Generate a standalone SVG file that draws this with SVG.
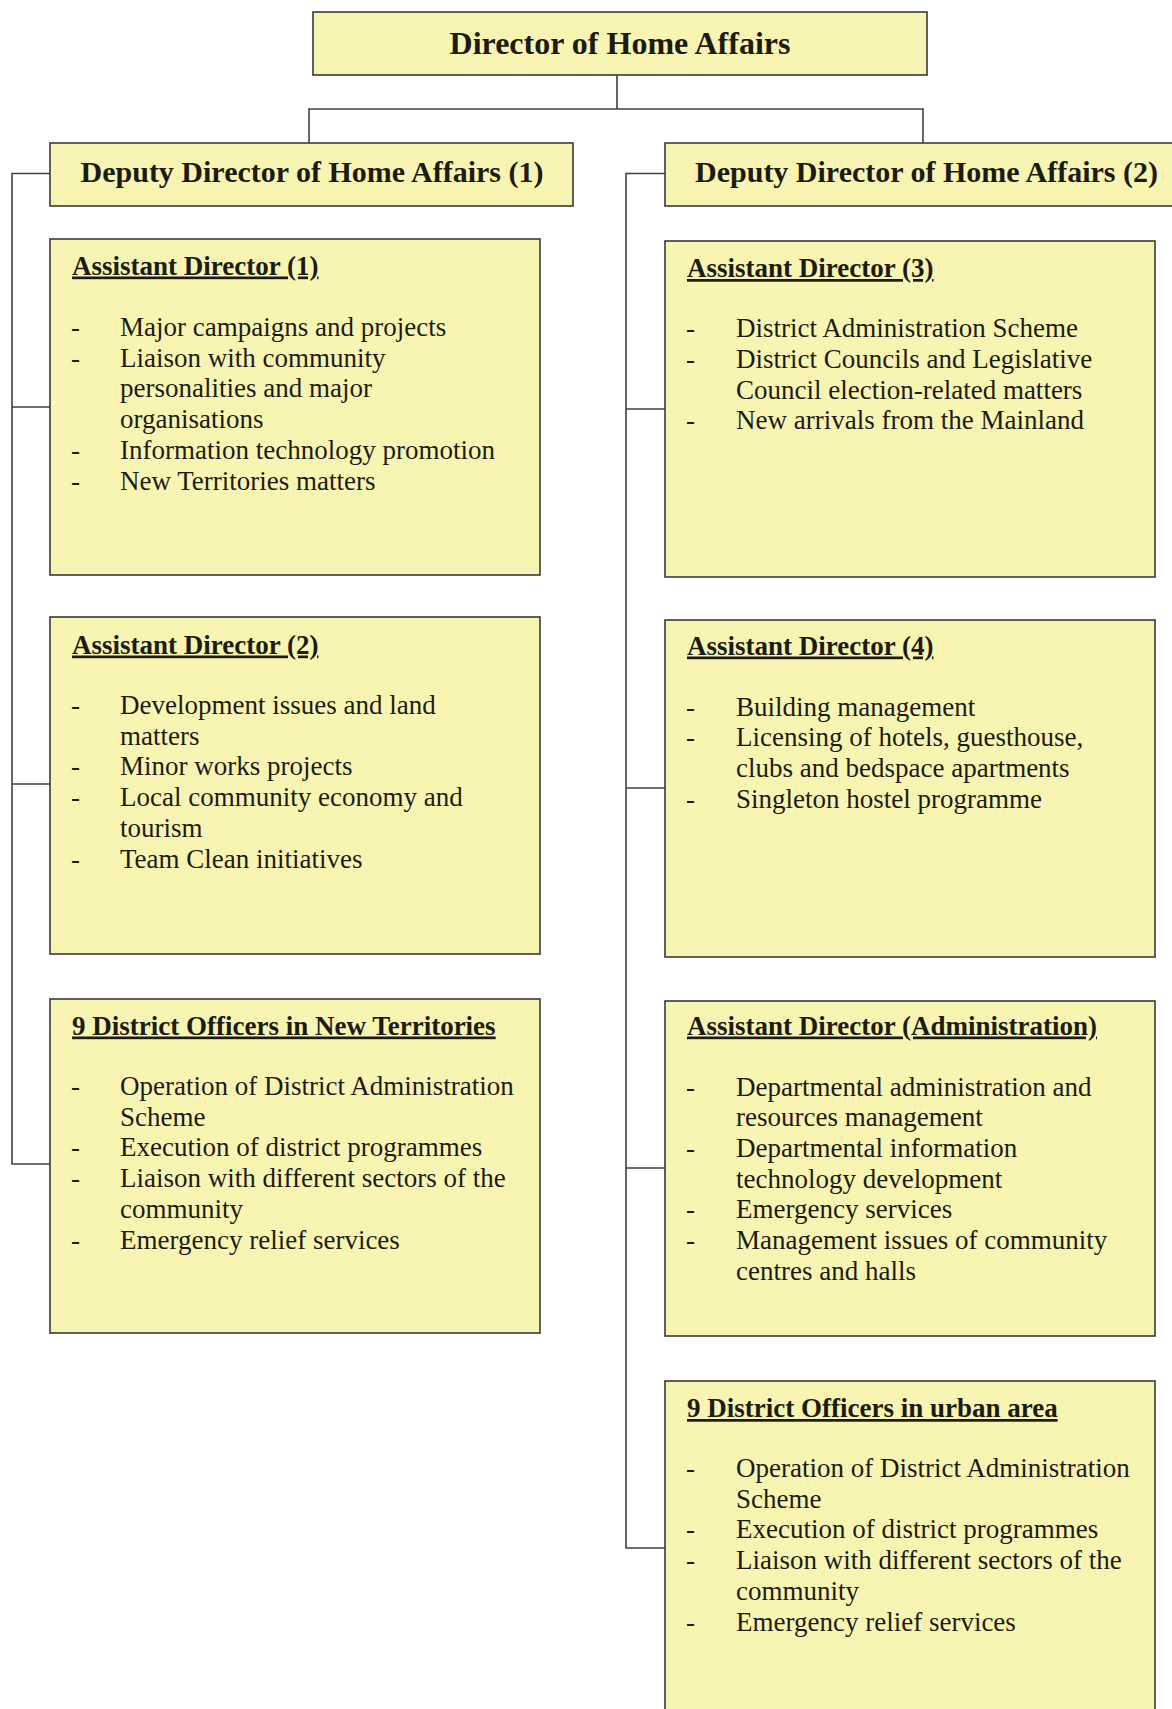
<svg xmlns="http://www.w3.org/2000/svg" width="1172" height="1709" viewBox="0 0 1172 1709">
<style>
.bg{fill:#ffffff}
.box{fill:#f8f5b3;stroke:#3a3a3a;stroke-width:1.6}
.conn{fill:none;stroke:#404040;stroke-width:1.6}
.t1{font-family:"Liberation Serif","Times New Roman",serif;font-weight:bold;font-size:32px;fill:#1c1c14;text-anchor:middle}
.t2{font-family:"Liberation Serif","Times New Roman",serif;font-weight:bold;font-size:30px;fill:#1c1c14;text-anchor:middle}
.hd{font-family:"Liberation Serif","Times New Roman",serif;font-weight:bold;font-size:27px;fill:#1c1c14;text-decoration:underline}
.bl{font-family:"Liberation Serif","Times New Roman",serif;font-size:27px;fill:#1c1c14}
</style>
<rect class="bg" x="0" y="0" width="1172" height="1709"/>

<g id="connectors">
  <path class="conn" d="M617,75 V109 M309,143 V109 H923 V143"/>
  <path class="conn" d="M50,173.5 H12 V1164 H50 M12,407 H50 M12,784 H50"/>
  <path class="conn" d="M665,173.5 H626 V1548 H665 M626,409 H665 M626,788 H665 M626,1168 H665"/>
</g>

<g id="director">
  <rect class="box" x="313" y="12" width="614" height="63"/>
  <text class="t1" x="620" y="53.5">Director of Home Affairs</text>
</g>

<g id="deputy1">
  <rect class="box" x="50" y="143" width="523" height="63"/>
  <text class="t2" x="312" y="182">Deputy Director of Home Affairs (1)</text>
</g>

<g id="deputy2">
  <rect class="box" x="665" y="143" width="540" height="63"/>
  <text class="t2" x="926.5" y="182">Deputy Director of Home Affairs (2)</text>
</g>

<g id="ad1">
  <rect class="box" x="50" y="239" width="490" height="336"/>
  <text class="hd" x="72" y="274.5">Assistant Director (1)</text>
  <text class="bl">
    <tspan x="71" y="336">-</tspan><tspan x="120" y="336">Major campaigns and projects</tspan>
    <tspan x="71" y="366.7">-</tspan><tspan x="120" y="366.7">Liaison with community</tspan>
    <tspan x="120" y="397.4">personalities and major</tspan>
    <tspan x="120" y="428.1">organisations</tspan>
    <tspan x="71" y="458.8">-</tspan><tspan x="120" y="458.8">Information technology promotion</tspan>
    <tspan x="71" y="489.5">-</tspan><tspan x="120" y="489.5">New Territories matters</tspan>
  </text>
</g>

<g id="ad2">
  <rect class="box" x="50" y="617" width="490" height="337"/>
  <text class="hd" x="72" y="653.5">Assistant Director (2)</text>
  <text class="bl">
    <tspan x="71" y="714">-</tspan><tspan x="120" y="714">Development issues and land</tspan>
    <tspan x="120" y="744.7">matters</tspan>
    <tspan x="71" y="775.4">-</tspan><tspan x="120" y="775.4">Minor works projects</tspan>
    <tspan x="71" y="806.1">-</tspan><tspan x="120" y="806.1">Local community economy and</tspan>
    <tspan x="120" y="836.8">tourism</tspan>
    <tspan x="71" y="867.5">-</tspan><tspan x="120" y="867.5">Team Clean initiatives</tspan>
  </text>
</g>

<g id="do-nt">
  <rect class="box" x="50" y="999" width="490" height="334"/>
  <text class="hd" x="72" y="1034.5">9 District Officers in New Territories</text>
  <text class="bl">
    <tspan x="71" y="1095">-</tspan><tspan x="120" y="1095">Operation of District Administration</tspan>
    <tspan x="120" y="1125.7">Scheme</tspan>
    <tspan x="71" y="1156.4">-</tspan><tspan x="120" y="1156.4">Execution of district programmes</tspan>
    <tspan x="71" y="1187.1">-</tspan><tspan x="120" y="1187.1">Liaison with different sectors of the</tspan>
    <tspan x="120" y="1217.8">community</tspan>
    <tspan x="71" y="1248.5">-</tspan><tspan x="120" y="1248.5">Emergency relief services</tspan>
  </text>
</g>

<g id="ad3">
  <rect class="box" x="665" y="241" width="490" height="336"/>
  <text class="hd" x="687" y="277">Assistant Director (3)</text>
  <text class="bl">
    <tspan x="686" y="337.3">-</tspan><tspan x="736" y="337.3">District Administration Scheme</tspan>
    <tspan x="686" y="368">-</tspan><tspan x="736" y="368">District Councils and Legislative</tspan>
    <tspan x="736" y="398.7">Council election-related matters</tspan>
    <tspan x="686" y="429.4">-</tspan><tspan x="736" y="429.4">New arrivals from the Mainland</tspan>
  </text>
</g>

<g id="ad4">
  <rect class="box" x="665" y="620" width="490" height="337"/>
  <text class="hd" x="687" y="654.5">Assistant Director (4)</text>
  <text class="bl">
    <tspan x="686" y="715.5">-</tspan><tspan x="736" y="715.5">Building management</tspan>
    <tspan x="686" y="746.2">-</tspan><tspan x="736" y="746.2">Licensing of hotels, guesthouse,</tspan>
    <tspan x="736" y="776.9">clubs and bedspace apartments</tspan>
    <tspan x="686" y="807.6">-</tspan><tspan x="736" y="807.6">Singleton hostel programme</tspan>
  </text>
</g>

<g id="ad-admin">
  <rect class="box" x="665" y="1001" width="490" height="335"/>
  <text class="hd" x="687" y="1034.5">Assistant Director (Administration)</text>
  <text class="bl">
    <tspan x="686" y="1095.5">-</tspan><tspan x="736" y="1095.5">Departmental administration and</tspan>
    <tspan x="736" y="1126.2">resources management</tspan>
    <tspan x="686" y="1156.9">-</tspan><tspan x="736" y="1156.9">Departmental information</tspan>
    <tspan x="736" y="1187.6">technology development</tspan>
    <tspan x="686" y="1218.3">-</tspan><tspan x="736" y="1218.3">Emergency services</tspan>
    <tspan x="686" y="1249">-</tspan><tspan x="736" y="1249">Management issues of community</tspan>
    <tspan x="736" y="1279.7">centres and halls</tspan>
  </text>
</g>

<g id="do-urban">
  <rect class="box" x="665" y="1381" width="490" height="345"/>
  <text class="hd" x="687" y="1417">9 District Officers in urban area</text>
  <text class="bl">
    <tspan x="686" y="1477">-</tspan><tspan x="736" y="1477">Operation of District Administration</tspan>
    <tspan x="736" y="1507.7">Scheme</tspan>
    <tspan x="686" y="1538.4">-</tspan><tspan x="736" y="1538.4">Execution of district programmes</tspan>
    <tspan x="686" y="1569.1">-</tspan><tspan x="736" y="1569.1">Liaison with different sectors of the</tspan>
    <tspan x="736" y="1599.8">community</tspan>
    <tspan x="686" y="1630.5">-</tspan><tspan x="736" y="1630.5">Emergency relief services</tspan>
  </text>
</g>
</svg>
